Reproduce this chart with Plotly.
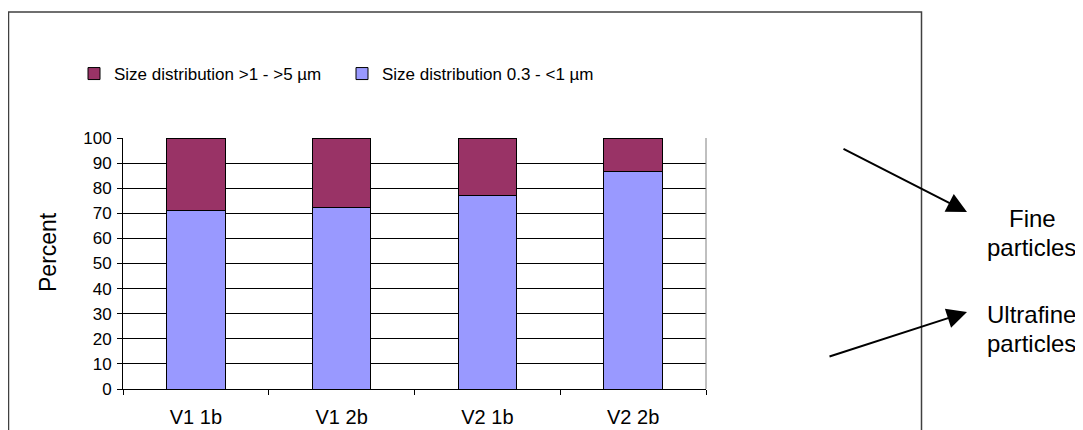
import plotly.graph_objects as go

categories = ["V1 1b", "V1 2b", "V2 1b", "V2 2b"]
fine_pct = [71.2, 72.4, 77.2, 86.7]          # Size distribution 0.3 - <1 µm
coarse_pct = [100 - v for v in fine_pct]      # Size distribution >1 - >5 µm
y_ticks = list(range(0, 101, 10))

# page has an 8px body margin: work in screenshot coordinates, shift by OFF
OFF = 8
W, H = 1083 - OFF, 430 - OFF
PL, PR, PT, PB = 123, 706, 138, 389           # plot area in screenshot px
L, T = PL - OFF, PT - OFF
R, B = W - (PR - OFF), H - (PB - OFF)
pw, ph = PR - PL, PB - PT

def px(x):
    return (x - PL) / pw

def py(y):
    return (PB - y) / ph

FONT = "Liberation Sans, Arial, sans-serif"

fig = go.Figure()
fig.add_trace(go.Bar(
    x=categories, y=fine_pct, name="Size distribution 0.3 - <1 µm",
    marker=dict(color="#9999FF", line=dict(color="#000000", width=1)),
))
fig.add_trace(go.Bar(
    x=categories, y=coarse_pct, name="Size distribution >1 - >5 µm",
    marker=dict(color="#993366", line=dict(color="#000000", width=1)),
))

fig.update_layout(
    width=W, height=H,
    margin=dict(l=L, r=R, t=T, b=B, autoexpand=False),
    barmode="stack", bargap=0.6,
    paper_bgcolor="white", plot_bgcolor="white",
    font=dict(family=FONT, color="#000000", size=17),
    legend=dict(
        orientation="h", traceorder="reversed",
        x=px(74), y=py(56), xanchor="left", yanchor="top",
        font=dict(size=17, family=FONT), bgcolor="rgba(0,0,0,0)",
        entrywidth=223, entrywidthmode="pixels",
    ),
    xaxis=dict(
        type="category", showline=True, linecolor="#000000", linewidth=1,
        ticks="outside", tickson="boundaries", ticklen=5, tickcolor="#000000",
        ticklabelstandoff=10,
        tickfont=dict(size=20), showgrid=False, mirror=False,
    ),
    yaxis=dict(
        range=[0, 100], tickvals=y_ticks, showline=True, linecolor="#000000",
        linewidth=1, ticks="outside", ticklen=5, tickcolor="#000000",
        ticklabelstandoff=2,
        showgrid=True, gridcolor="#000000", gridwidth=1,
        tickfont=dict(size=17),
        zeroline=False,
    ),
    showlegend=True,
)

shapes = [
    # right border of plot area
    dict(type="line", xref="paper", yref="paper", x0=1, x1=1, y0=0, y1=1,
         line=dict(color="#808080", width=1)),
    # outer frame
    dict(type="rect", xref="paper", yref="paper",
         x0=px(8.5), x1=px(921.5), y0=py(12), y1=py(445),
         line=dict(color="#404040", width=1.5), fillcolor="rgba(0,0,0,0)"),
]
fig.update_layout(shapes=shapes)

def label(text, x, y, size, angle=0):
    return dict(xref="paper", yref="paper", x=px(x), y=py(y), showarrow=False,
                text=text, font=dict(size=size, family=FONT, color="#000000"),
                xanchor="center", yanchor="middle", textangle=angle)

annotations = [
    dict(xref="paper", yref="paper", x=px(967), y=py(212), ax=-125, ay=-64,
         axref="pixel", ayref="pixel", showarrow=True, arrowhead=2,
         arrowsize=2, arrowwidth=2, arrowcolor="#000000", text=""),
    dict(xref="paper", yref="paper", x=px(967), y=py(312), ax=-139, ay=45,
         axref="pixel", ayref="pixel", showarrow=True, arrowhead=2,
         arrowsize=2, arrowwidth=2, arrowcolor="#000000", text=""),
    label("Percent", 48, 252, 23, -90),
    label("Fine", 1032, 218, 24),
    label("particles", 1031, 247, 24),
    label("Ultrafine", 1031, 314, 24),
    label("particles", 1031, 343, 24),
]
fig.update_layout(annotations=annotations)

fig.write_html("out.html")
